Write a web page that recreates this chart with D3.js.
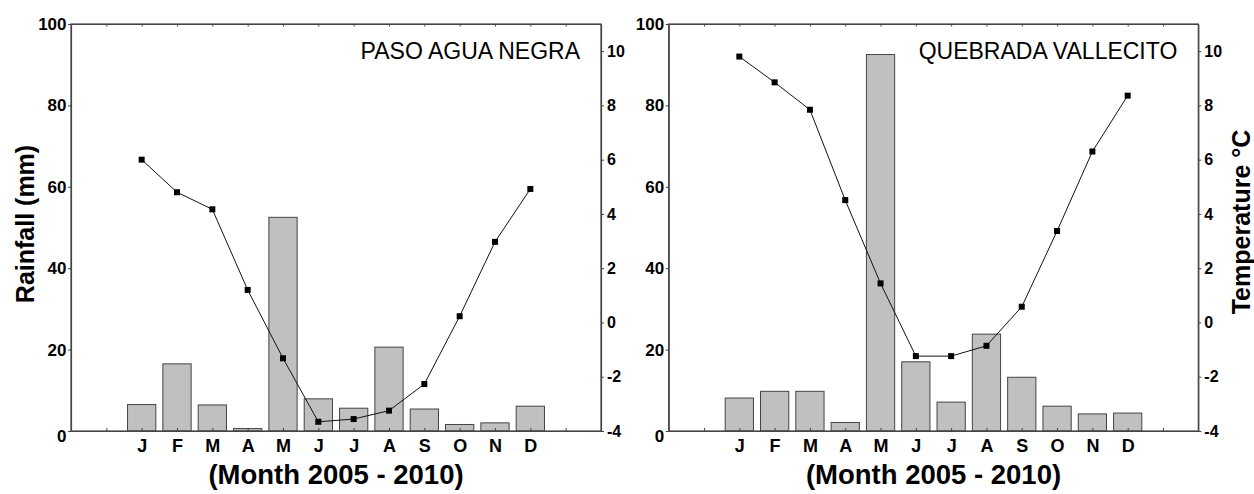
<!DOCTYPE html>
<html>
<head>
<meta charset="utf-8">
<script src="https://cdn.jsdelivr.net/npm/d3@7"></script>
<style>
  html, body { margin: 0; padding: 0; background: #fff; }
  svg { display: block; font-family: "Liberation Sans", Arial, Helvetica, sans-serif; }
</style>
</head>
<body>
<svg id="chart" width="1254" height="494"></svg>
<script>
// ---- data ----
const months = ["J","F","M","A","M","J","J","A","S","O","N","D"];
const pasoRain = [6.5, 16.5, 6.4, 0.6, 52.5, 7.9, 5.6, 20.6, 5.4, 1.6, 2.0, 6.1];
const pasoTemp = [6.0, 4.8, 4.17, 1.2, -1.32, -3.66, -3.56, -3.25, -2.27, 0.23, 2.97, 4.92];
const vallecitoRain = [8.1, 9.75, 9.75, 2.1, 92.5, 17.0, 7.1, 23.8, 13.2, 6.1, 4.2, 4.4];
const vallecitoTemp = [9.8, 8.85, 7.84, 4.51, 1.44, -1.24, -1.24, -0.86, 0.58, 3.37, 6.3, 8.36];
const rainTicks = [0, 20, 40, 60, 80, 100];
const tempTicks = [-4, -2, 0, 2, 4, 6, 8, 10];
const frameTicks = [1,2,3,4,5,6,7,8,9,10,11,12,13,14];
const stationNames = ["PASO AGUA NEGRA", "QUEBRADA VALLECITO"];

const panels = [
  { name: stationNames[0], rain: pasoRain, temp: pasoTemp, x0: 71, x1: 601 },
  { name: stationNames[1], rain: vallecitoRain, temp: vallecitoTemp, x0: 668.7, x1: 1198.3 }
];

const svg = d3.select("#chart");
const plotTop = 24, plotBottom = 431;
const axisColor = "#444";

panels.forEach(p => {
  const x = d3.scaleLinear().domain([0, 15]).range([p.x0, p.x1]);
  const yR = d3.scaleLinear().domain([0, 100]).range([plotBottom, plotTop]);
  const yT = d3.scaleLinear().domain([-4, 11]).range([plotBottom, plotTop]);
  const g = svg.append("g");
  const unit = x(1) - x(0);
  const bw = unit * 0.8;

  // bars
  g.selectAll("rect.bar").data(p.rain).join("rect")
    .attr("class", "bar")
    .attr("x", (d, i) => x(i + 2) - bw / 2)
    .attr("y", d => yR(d))
    .attr("width", bw)
    .attr("height", d => yR(0) - yR(d))
    .attr("fill", "#c0c0c0")
    .attr("stroke", axisColor)
    .attr("stroke-width", 1);

  // frame
  g.append("rect")
    .attr("x", p.x0).attr("y", plotTop)
    .attr("width", p.x1 - p.x0).attr("height", plotBottom - plotTop)
    .attr("fill", "none").attr("stroke", axisColor).attr("stroke-width", 1.2);

  const styleAxis = (sel, size) => {
    sel.attr("font-size", size).attr("font-family", "'Liberation Sans', Arial, sans-serif");
    sel.select(".domain").attr("stroke", axisColor).attr("stroke-width", 1.2);
    sel.selectAll(".tick line").attr("stroke", axisColor);
    sel.selectAll("text").attr("font-weight", "bold").attr("font-size", size).attr("fill", "#000");
  };

  // bottom axis with month labels
  const xb = g.append("g").attr("transform", `translate(0,${plotBottom})`)
    .call(d3.axisBottom(x).tickValues(frameTicks).tickSizeInner(-3).tickSizeOuter(0).tickPadding(8)
      .tickFormat(d => (d >= 2 && d <= 13) ? months[d - 2] : ""));
  styleAxis(xb, 18);

  // top axis ticks
  const xt = g.append("g").attr("transform", `translate(0,${plotTop})`)
    .call(d3.axisTop(x).tickValues(frameTicks).tickSizeInner(-2.5).tickSizeOuter(0).tickFormat(""));
  styleAxis(xt, 17);

  // left rainfall axis
  const yl = g.append("g").attr("transform", `translate(${p.x0},0)`)
    .call(d3.axisLeft(yR).tickValues(rainTicks).tickSizeInner(3).tickSizeOuter(0).tickPadding(1.5)
      .tickFormat(d => String(d)));
  styleAxis(yl, 17);
  yl.selectAll(".tick").filter(d => d === 0).select("text").attr("dy", "0.62em");

  // right temperature axis
  const yr = g.append("g").attr("transform", `translate(${p.x1},0)`)
    .call(d3.axisRight(yT).tickValues(tempTicks).tickSizeInner(3).tickSizeOuter(0).tickPadding(3)
      .tickFormat(d => String(d)));
  styleAxis(yr, 16);

  // temperature line
  const line = d3.line().x((d, i) => x(i + 2)).y(d => yT(d));
  g.append("path").datum(p.temp)
    .attr("d", line).attr("fill", "none").attr("stroke", "#111").attr("stroke-width", 1);
  g.selectAll("rect.pt").data(p.temp).join("rect")
    .attr("class", "pt")
    .attr("x", (d, i) => x(i + 2) - 3)
    .attr("y", d => yT(d) - 3)
    .attr("width", 6).attr("height", 6)
    .attr("fill", "#000");

  // station name
  g.append("text")
    .attr("x", p.x1 - 21).attr("y", 59)
    .attr("text-anchor", "end")
    .attr("font-size", 23)
    .attr("fill", "#000")
    .text(p.name);

  // x axis title
  g.append("text")
    .attr("x", (p.x0 + p.x1) / 2).attr("y", 484)
    .attr("text-anchor", "middle")
    .attr("font-size", 27.5).attr("font-weight", "bold")
    .attr("fill", "#000")
    .text("(Month 2005 - 2010)");
});

// y axis titles
svg.append("text")
  .attr("transform", "translate(34,224) rotate(-90)")
  .attr("text-anchor", "middle")
  .attr("font-size", 25).attr("font-weight", "bold")
  .text("Rainfall (mm)");

svg.append("text")
  .attr("transform", "translate(1250,222) rotate(-90)")
  .attr("text-anchor", "middle")
  .attr("font-size", 25).attr("font-weight", "bold")
  .text("Temperature °C");
</script>
</body>
</html>
